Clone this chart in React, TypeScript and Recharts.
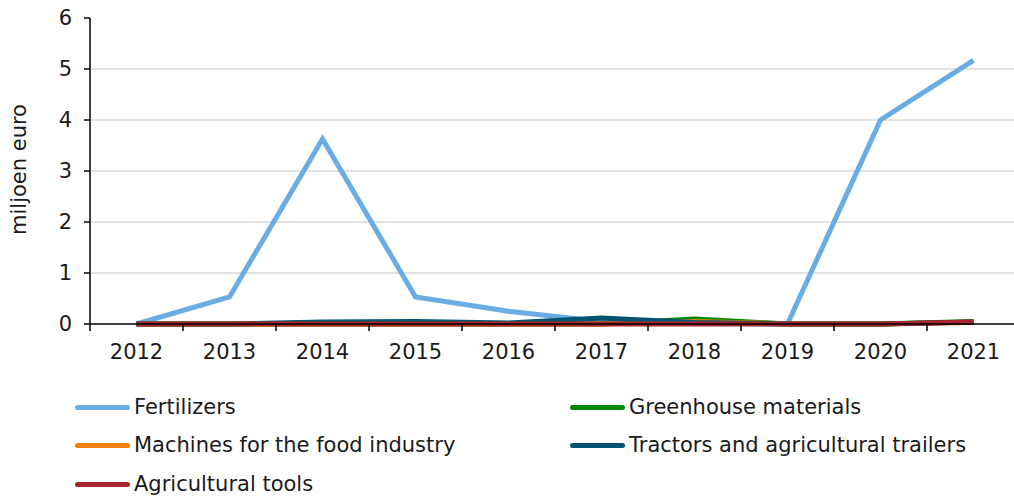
import React from "react";
import { LineChart, Line, XAxis, YAxis, CartesianGrid } from "recharts";

const YEARS = ["2012", "2013", "2014", "2015", "2016", "2017", "2018", "2019", "2020", "2021"];
const FERTILIZERS = [0, 0.53, 3.63, 0.53, 0.25, 0.05, 0.02, 0, 4.0, 5.17];
const GREENHOUSE = [0, 0, 0, 0, 0, 0, 0.1, 0, 0, 0.05];
const MACHINES = [0, 0, 0, 0, 0, 0, 0.05, 0, 0, 0.03];
const TRACTORS = [0, 0, 0.04, 0.05, 0.02, 0.12, 0.03, 0, 0, 0.04];
const TOOLS = [0, 0, 0, 0, 0, 0, 0, 0, 0, 0.04];
const Y_TICKS = [0, 1, 2, 3, 4, 5, 6];

const SERIES = [
  { key: "fert", name: "Fertilizers", color: "#6aade4", values: FERTILIZERS },
  { key: "green", name: "Greenhouse materials", color: "#008a00", values: GREENHOUSE },
  { key: "mach", name: "Machines for the food industry", color: "#f77f00", values: MACHINES },
  { key: "trac", name: "Tractors and agricultural trailers", color: "#00546e", values: TRACTORS },
  { key: "tools", name: "Agricultural tools", color: "#a8262e", values: TOOLS },
];

const data = YEARS.map((year, i) => {
  const row: any = { year };
  SERIES.forEach((s) => (row[s.key] = s.values[i]));
  return row;
});

const FONT = "DejaVu Sans, Verdana, sans-serif";
const BAND = 93;
const FS = 21;

const XTick = ({ x, y, payload, index }: any) => (
  <g>
    <line x1={x - BAND / 2} x2={x - BAND / 2} y1={y - 8} y2={y - 1} stroke="#000" strokeWidth={1.5} />
    {index === YEARS.length - 1 && (
      <line x1={x + BAND / 2} x2={x + BAND / 2} y1={y - 8} y2={y - 1} stroke="#000" strokeWidth={1.5} />
    )}
    <text x={x} y={y + 27} textAnchor="middle" fontSize={FS} fill="#1a1a1a" fontFamily={FONT}>
      {payload.value}
    </text>
  </g>
);

// legend: two columns, rows filled left-to-right
const LEGEND_POS = [
  { left: 75, top: 407 },
  { left: 570, top: 407 },
  { left: 75, top: 445 },
  { left: 570, top: 445 },
  { left: 75, top: 484 },
];

export default function App() {
  return (
    <div style={{ position: "absolute", left: 0, top: 0, width: 1014, height: 501, overflow: "hidden", background: "#fff", fontFamily: FONT }}>
      <LineChart width={1020} height={380} data={data} margin={{ top: 18, right: 0, left: 0, bottom: 0 }}>
        <CartesianGrid vertical={false} horizontalValues={[1, 2, 3, 4, 5]} stroke="#d9d9d9" strokeWidth={1.5} />
        <XAxis
          dataKey="year"
          height={56}
          padding={{ left: BAND / 2, right: BAND / 2 }}
          axisLine={{ stroke: "#000", strokeWidth: 1.5 }}
          tickLine={false}
          tickSize={8}
          tickMargin={0}
          tick={<XTick />}
          interval={0}
        />
        <YAxis
          width={90}
          domain={[0, 6]}
          ticks={Y_TICKS}
          interval={0}
          axisLine={{ stroke: "#000", strokeWidth: 1.5 }}
          tickLine={{ stroke: "#000", strokeWidth: 1.5 }}
          tickSize={6}
          tickMargin={12}
          tick={{ fontSize: FS, fill: "#1a1a1a", fontFamily: FONT }}
          label={{ value: "miljoen euro", angle: -90, position: "insideLeft", dx: 14, dy: 64, style: { fontSize: FS, fill: "#1a1a1a", fontFamily: FONT } }}
        />
        {SERIES.map((s) => (
          <Line
            key={s.key}
            dataKey={s.key}
            name={s.name}
            stroke={s.color}
            strokeWidth={5}
            dot={false}
            activeDot={false}
            isAnimationActive={false}
          />
        ))}
      </LineChart>
      {SERIES.map((s, i) => (
        <div
          key={s.key}
          style={{
            position: "absolute",
            left: LEGEND_POS[i].left,
            top: LEGEND_POS[i].top - 14,
            height: 28,
            display: "flex",
            alignItems: "center",
            fontSize: FS,
            color: "#1a1a1a",
            whiteSpace: "nowrap",
          }}
        >
          <span style={{ display: "inline-block", width: 55, height: 5, borderRadius: 3, background: s.color, marginRight: 4 }} />
          {s.name}
        </div>
      ))}
    </div>
  );
}
